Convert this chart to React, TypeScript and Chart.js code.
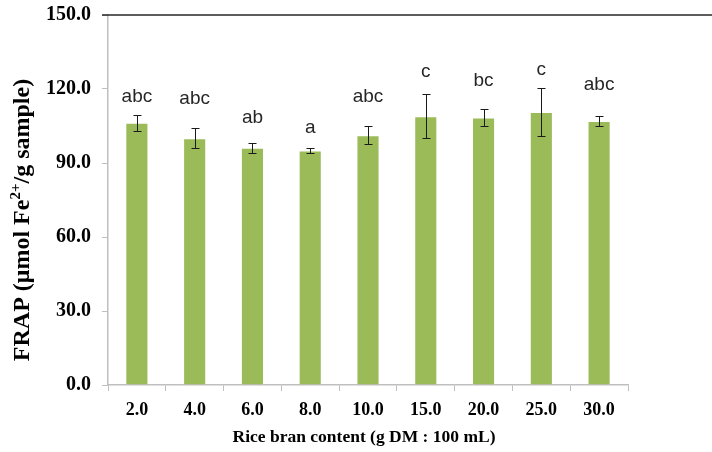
import React, { useEffect, useRef } from "react";
import { Chart, registerables } from "chart.js";

Chart.register(...registerables);

const categories = ["2.0", "4.0", "6.0", "8.0", "10.0", "15.0", "20.0", "25.0", "30.0"];
const means = [106.3, 100.0, 96.2, 95.1, 101.2, 109.0, 108.4, 110.7, 107.0];
const errors = [3.3, 4.0, 2.0, 1.0, 3.6, 9.0, 3.3, 9.8, 2.2];
const letters = ["abc", "abc", "ab", "a", "abc", "c", "bc", "c", "abc"];
const letterPos = [116.9, 116.2, 108.2, 104.3, 116.9, 127.0, 123.3, 128.0, 121.6];
const yTicks = [0, 30, 60, 90, 120, 150];

const xTitle = "Rice bran content (g DM : 100 mL)";
const yTitleParts = [
  { text: "FRAP (\u03bcmol Fe", sup: false },
  { text: "2+", sup: true },
  { text: "/g sample)", sup: false },
];

const SERIF = "'Liberation Serif', 'Times New Roman', serif";
const SANS = "'Liberation Sans', Arial, sans-serif";

const overlay = {
  id: "overlay",
  afterDatasetsDraw(chart: any) {
    const ctx = chart.ctx;
    const x = chart.scales.x;
    const y = chart.scales.y;
    const meta = chart.getDatasetMeta(0);
    ctx.save();
    // top line at max
    const yTop = Math.round(y.getPixelForValue(150));
    ctx.strokeStyle = "#262626";
    ctx.lineWidth = 1.5;
    ctx.beginPath();
    ctx.moveTo(chart.chartArea.left - 6, yTop);
    ctx.lineTo(chart.width, yTop);
    ctx.stroke();
    // error bars
    ctx.strokeStyle = "#1a1a1a";
    ctx.lineWidth = 1;
    meta.data.forEach((bar: any, i: number) => {
      const cx = Math.round(bar.x) + 0.5;
      const t = Math.round(y.getPixelForValue(means[i] + errors[i])) + 0.5;
      const b = Math.round(y.getPixelForValue(means[i] - errors[i])) + 0.5;
      ctx.beginPath();
      ctx.moveTo(cx, t);
      ctx.lineTo(cx, b);
      ctx.moveTo(cx - 4, t);
      ctx.lineTo(cx + 4, t);
      ctx.moveTo(cx - 4, b);
      ctx.lineTo(cx + 4, b);
      ctx.stroke();
    });
    // letters
    ctx.fillStyle = "#262626";
    ctx.font = "19px " + SANS;
    ctx.textAlign = "center";
    ctx.textBaseline = "middle";
    meta.data.forEach((bar: any, i: number) => {
      ctx.fillText(letters[i], bar.x, y.getPixelForValue(letterPos[i]));
    });
    // x title
    ctx.fillStyle = "#000";
    ctx.font = "bold 17.5px " + SERIF;
    ctx.fillText(xTitle, (x.left + x.right) / 2 - 4, 437);
    // y title with superscript
    ctx.translate(23, 220);
    ctx.rotate(-Math.PI / 2);
    const big = "bold 24px " + SERIF;
    const small = "bold 15px " + SERIF;
    let total = 0;
    yTitleParts.forEach((p) => {
      ctx.font = p.sup ? small : big;
      total += ctx.measureText(p.text).width;
    });
    let pos = -total / 2;
    ctx.textAlign = "left";
    yTitleParts.forEach((p) => {
      ctx.font = p.sup ? small : big;
      ctx.fillText(p.text, pos, p.sup ? -7 : 0);
      pos += ctx.measureText(p.text).width;
    });
    ctx.restore();
  },
};

export default function App() {
  const ref = useRef<HTMLCanvasElement>(null);
  useEffect(() => {
    if (!ref.current) return;
    const chart = new Chart(ref.current, {
      type: "bar",
      data: {
        labels: categories,
        datasets: [
          {
            data: means,
            backgroundColor: "#9BBB59",
            borderColor: "rgba(255,255,255,0.5)",
            borderWidth: 1,
            barPercentage: 0.4,
            categoryPercentage: 1.0,
          },
        ],
      },
      options: {
        animation: false,
        responsive: true,
        maintainAspectRatio: false,
        layout: { padding: { left: 0, right: 84, top: 15, bottom: 0 } },
        plugins: { legend: { display: false }, tooltip: { enabled: false } },
        scales: {
          x: {
            afterFit: (s: any) => {
              s.height = 67;
              s.paddingLeft = 0;
              s.paddingRight = 0;
            },
            grid: {
              display: true,
              offset: true,
              drawOnChartArea: false,
              drawTicks: true,
              tickLength: 6,
              color: "#bfbfbf",
            },
            border: { color: "#bfbfbf", width: 1.5 },
            ticks: {
              color: "#000",
              padding: 9,
              font: { family: SERIF, size: 18, weight: "bold" },
            },
          },
          y: {
            min: 0,
            max: 150,
            afterFit: (s: any) => {
              s.width = 108;
              s.paddingTop = 0;
              s.paddingBottom = 0;
            },
            afterBuildTicks: (s: any) => {
              s.ticks = yTicks.map((v) => ({ value: v }));
            },
            grid: {
              display: true,
              drawOnChartArea: false,
              drawTicks: true,
              tickLength: 6,
              color: "#bfbfbf",
            },
            border: { color: "#bfbfbf", width: 1.5 },
            ticks: {
              color: "#000",
              padding: 11,
              font: { family: SERIF, size: 20, weight: "bold" },
              callback: (v: any) => Number(v).toFixed(1),
            },
          },
        },
      },
      plugins: [overlay],
    });
    return () => chart.destroy();
  }, []);
  return (
    <div style={{ position: "fixed", left: 0, top: 0, width: 712, height: 452, background: "#fff" }}>
      <canvas ref={ref} />
    </div>
  );
}
